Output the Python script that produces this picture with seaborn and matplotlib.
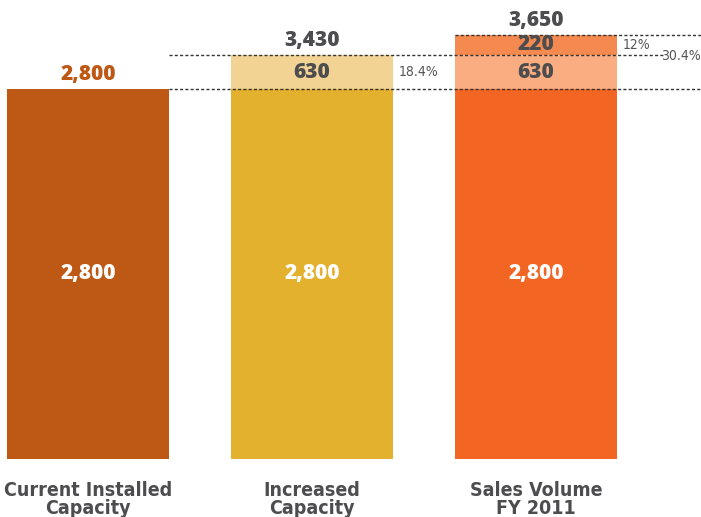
import numpy as np
import pandas as pd
import matplotlib
matplotlib.use("Agg")
import matplotlib.pyplot as plt
import seaborn as sns

# data
categories = ["Current Installed\nCapacity", "Increased\nCapacity", "Sales Volume\nFY 2011"]
base = [2800, 2800, 2800]
increase = [0, 630, 630]
extra = [0, 0, 220]
pct_increase = "18.4%"
pct_extra = "12%"
pct_total = "30.4%"

base_colors = ["#BE5815", "#E4B12F", "#F26522"]
mid_colors = ["#BE5815", "#F2D394", "#FAAD80"]
top_colors = ["#BE5815", "#F2D394", "#F58A50"]

total_mid = [b + i for b, i in zip(base, increase)]
total_all = [m + e for m, e in zip(total_mid, extra)]

# the original chart squeezes everything above the base level
brk_data = [0, 2800, 3430, 3650, 4000]
brk_disp = [0, 370, 404, 424, 459]
fwd = lambda v: np.interp(v, brk_data, brk_disp)
inv = lambda v: np.interp(v, brk_disp, brk_data)

sns.set_style("white")
fig = plt.figure(figsize=(7.01, 5.17), dpi=100)
ax = fig.add_axes([0, 1 - 459 / 517, 1, 459 / 517])
ax.set_yscale("function", functions=(fwd, inv))

num_font = ["Open Sans", "DejaVu Sans"]

df = pd.DataFrame({"cat": categories, "base": base, "mid": total_mid, "top": total_all})
for col, cols in [("top", top_colors), ("mid", mid_colors), ("base", base_colors)]:
    sns.barplot(data=df, x="cat", y=col, hue="cat", palette=cols, width=0.723,
                legend=False, ax=ax, saturation=1, linewidth=0)

ax.set_xlim(-88 / 224, (701 - 88) / 224)
ax.set_ylim(0, 4000)
ax.set_xlabel("")
ax.set_ylabel("")
ax.set_yticks([])
ax.set_xticks([])
for s in ax.spines.values():
    s.set_visible(False)

dark = "#4D4D4F"
dash = (0, (2.2, 1.6))
# dashed reference lines
ax.plot([0.362, 2.737], [2800, 2800], ls=dash, color="#333333", lw=1, clip_on=False)
ax.plot([0.362, 2.57], [3430, 3430], ls=dash, color="#333333", lw=1, clip_on=False)
ax.plot([1.64, 2.737], [3650, 3650], ls=dash, color="#333333", lw=1, clip_on=False)

nkw = dict(fontsize=15, fontweight=800, family=num_font)
# values inside bars
for i, b in enumerate(base):
    ax.text(i, b / 2, f"{b:,}", ha="center", va="center", color="white", **nkw)
for i in range(3):
    if increase[i]:
        ax.text(i, inv((fwd(base[i]) + fwd(total_mid[i])) / 2), f"{increase[i]:,}",
                ha="center", va="center", color=dark, **nkw)
    if extra[i]:
        ax.text(i, inv((fwd(total_mid[i]) + fwd(total_all[i])) / 2), f"{extra[i]:,}",
                ha="center", va="center", color=dark, **nkw)
    tcolor = base_colors[0] if i == 0 else dark
    ax.annotate(f"{total_all[i]:,}", (i, total_all[i]), xytext=(0, 3), textcoords="offset points",
                ha="center", va="bottom", color=tcolor, **nkw)

# percentage notes
pkw = dict(color="#555555", fontsize=10, family="DejaVu Sans", fontstretch="condensed")
ax.text(1.385, inv((fwd(2800) + fwd(3430)) / 2), pct_increase, ha="left", va="center", **pkw)
ax.text(2.385, inv((fwd(3430) + fwd(3650)) / 2), pct_extra, ha="left", va="center", **pkw)
ax.annotate(pct_total, (2.737, 3430), xytext=(0, -1), textcoords="offset points",
            ha="right", va="center", **pkw)

# category labels
for i, c in enumerate(categories):
    ax.annotate(c, (i, 0), xytext=(0, -16), textcoords="offset points", ha="center", va="top",
                color=dark, fontsize=14, fontweight="bold", family="DejaVu Sans",
                fontstretch="condensed", linespacing=0.95, annotation_clip=False)

fig.savefig("out.png", dpi=100)
